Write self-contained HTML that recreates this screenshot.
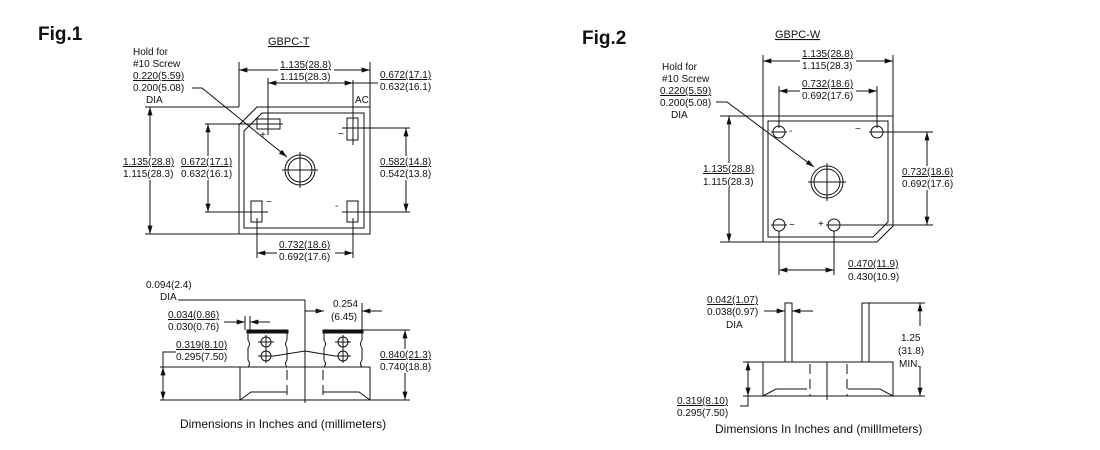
<!DOCTYPE html>
<html><head><style>
html,body{margin:0;padding:0;background:#fff;}
svg{display:block;}
text{font-family:"Liberation Sans",sans-serif;font-size:10px;fill:#111;}
.t{font-size:19px;font-weight:bold;}
.c{font-size:12px;}
line,polyline,rect,circle,path,polygon{stroke:#111;stroke-width:1;fill:none;}
.d{stroke-dasharray:10 5;}
</style></head><body>
<svg width="1100" height="450" viewBox="0 0 1100 450" xmlns="http://www.w3.org/2000/svg">
<defs>
<marker id="a" viewBox="0 0 10 6" refX="10" refY="3" markerWidth="9" markerHeight="5" orient="auto-start-reverse" markerUnits="userSpaceOnUse"><path d="M0,0 L10,3 L0,6z" style="fill:#111;stroke:none"/></marker>
</defs>
<text class="t" x="38" y="40">Fig.1</text>
<text class="t" x="582" y="44">Fig.2</text>

<!-- FIG 1 TOP -->
<text x="268" y="45" style="font-size:11px;text-decoration:underline">GBPC-T</text>
<polygon points="257,107 370,107 370,234 239,234 239,125"/>
<polygon points="262,113 364,113 364,228 244,228 244,131"/>
<rect x="257" y="119" width="23" height="10"/>
<rect x="347" y="118" width="11" height="22"/>
<rect x="251" y="201" width="11" height="21"/>
<rect x="347" y="201" width="11" height="21"/>
<circle cx="300" cy="170" r="15"/><circle cx="300" cy="170" r="12"/>
<line x1="282" y1="170" x2="318" y2="170"/><line x1="300" y1="152" x2="300" y2="188"/>
<text x="260" y="138">+</text><text x="338" y="137">~</text><text x="266" y="205">~</text><text x="335" y="209">-</text>
<text x="355" y="103">AC</text>
<!-- top dims -->
<line x1="239" y1="62" x2="239" y2="107"/><line x1="370" y1="62" x2="370" y2="107"/>
<line x1="239" y1="70" x2="370" y2="70" marker-start="url(#a)" marker-end="url(#a)"/>
<line x1="268" y1="78" x2="268" y2="135"/><line x1="353" y1="80" x2="353" y2="145"/>
<line x1="268" y1="83" x2="353" y2="83" marker-start="url(#a)" marker-end="url(#a)"/>
<line x1="353" y1="83" x2="378" y2="83"/>
<rect x="278" y="59" width="56" height="23" style="fill:#fff;stroke:none"/>
<text x="280" y="68" style="text-decoration:underline">1.135(28.8)</text><text x="280" y="80">1.115(28.3)</text>
<text x="380" y="78" style="text-decoration:underline">0.672(17.1)</text><text x="380" y="90">0.632(16.1)</text>
<text x="133" y="55">Hold for</text><text x="133" y="67">#10 Screw</text>
<text x="133" y="79" style="text-decoration:underline">0.220(5.59)</text><text x="133" y="91">0.200(5.08)</text>
<text x="146" y="103">DIA</text>
<line x1="145" y1="107" x2="239" y2="107"/>
<polyline points="192,88 202,88 287,157" marker-end="url(#a)"/>
<!-- left dims -->
<line x1="145" y1="234" x2="239" y2="234"/>
<line x1="150" y1="107" x2="150" y2="234" marker-start="url(#a)" marker-end="url(#a)"/>
<rect x="120" y="156" width="60" height="24" style="fill:#fff;stroke:none"/>
<text x="123" y="165" style="text-decoration:underline">1.135(28.8)</text><text x="123" y="177">1.115(28.3)</text>
<line x1="205" y1="124" x2="283" y2="124"/><line x1="205" y1="212" x2="268" y2="212"/>
<line x1="208" y1="124" x2="208" y2="212" marker-start="url(#a)" marker-end="url(#a)"/>
<rect x="206" y="156" width="4" height="24" style="fill:#fff;stroke:none"/>
<text x="181" y="165" style="text-decoration:underline">0.672(17.1)</text><text x="181" y="177">0.632(16.1)</text>
<line x1="342" y1="128" x2="410" y2="128"/><line x1="342" y1="212" x2="410" y2="212"/>
<line x1="406" y1="128" x2="406" y2="212" marker-start="url(#a)" marker-end="url(#a)"/>
<rect x="378" y="156" width="60" height="24" style="fill:#fff;stroke:none"/>
<text x="380" y="165" style="text-decoration:underline">0.582(14.8)</text><text x="380" y="177">0.542(13.8)</text>
<line x1="257" y1="218" x2="257" y2="258"/><line x1="353" y1="218" x2="353" y2="258"/>
<line x1="257" y1="253" x2="353" y2="253" marker-start="url(#a)" marker-end="url(#a)"/>
<rect x="277" y="240" width="58" height="24" style="fill:#fff;stroke:none"/>
<text x="279" y="248" style="text-decoration:underline">0.732(18.6)</text><text x="279" y="260">0.692(17.6)</text>

<!-- FIG 1 SIDE -->
<rect x="240" y="367" width="130" height="33"/>
<polyline points="240,400 251,392 287,392"/><polyline points="370,400 359,392 323,392"/>
<line x1="287" y1="370" x2="287" y2="400" class="d"/><line x1="323" y1="370" x2="323" y2="400" class="d"/>
<line x1="305" y1="300" x2="305" y2="403"/>
<path d="M248,333 L287,333 L287,340 Q284,344 287,348 L287,360 Q284,364 287,367 M248,333 L248,340 Q251,344 248,348 L248,360 Q251,364 248,367"/>
<path d="M324,333 L362,333 L362,340 Q359,344 362,348 L362,360 Q359,364 362,367 M324,333 L324,340 Q327,344 324,348 L324,360 Q327,364 324,367"/>
<rect x="247" y="330" width="41" height="3" style="fill:#111"/><rect x="323" y="330" width="40" height="3" style="fill:#111"/>
<circle cx="266" cy="342" r="5"/><circle cx="266" cy="356" r="5"/><circle cx="343" cy="342" r="5"/><circle cx="343" cy="356" r="5"/>
<line x1="258" y1="342" x2="274" y2="342"/><line x1="258" y1="356" x2="274" y2="356"/><line x1="335" y1="342" x2="351" y2="342"/><line x1="335" y1="356" x2="351" y2="356"/>
<line x1="266" y1="335" x2="266" y2="363"/><line x1="343" y1="335" x2="343" y2="363"/>
<polyline points="274,356 305,351 335,356"/>
<text x="146" y="288">0.094(2.4)</text><text x="160" y="300">DIA</text>
<line x1="178" y1="300" x2="305" y2="300"/>
<line x1="305" y1="311" x2="324" y2="311" marker-end="url(#a)"/>
<line x1="362" y1="311" x2="382" y2="311" marker-start="url(#a)"/>
<line x1="362" y1="303" x2="362" y2="330"/>
<text x="333" y="307">0.254</text><text x="331" y="320">(6.45)</text>
<text x="168" y="318" style="text-decoration:underline">0.034(0.86)</text><text x="168" y="330">0.030(0.76)</text>
<line x1="224" y1="322" x2="245" y2="322" marker-end="url(#a)"/><line x1="250" y1="322" x2="270" y2="322" marker-start="url(#a)"/>
<line x1="245" y1="316" x2="245" y2="330"/><line x1="250" y1="316" x2="250" y2="330"/>
<text x="176" y="348" style="text-decoration:underline">0.319(8.10)</text><text x="176" y="360">0.295(7.50)</text>
<polyline points="176,352 163,352 163,367"/>
<line x1="160" y1="367" x2="240" y2="367"/><line x1="160" y1="400" x2="410" y2="400"/>
<line x1="163" y1="367" x2="163" y2="400" marker-start="url(#a)" marker-end="url(#a)"/>
<line x1="362" y1="330" x2="410" y2="330"/>
<line x1="405" y1="330" x2="405" y2="400" marker-start="url(#a)" marker-end="url(#a)"/>
<rect x="378" y="349" width="60" height="24" style="fill:#fff;stroke:none"/>
<text x="380" y="358" style="text-decoration:underline">0.840(21.3)</text><text x="380" y="370">0.740(18.8)</text>
<text class="c" x="180" y="428">Dimensions in Inches and (millimeters)</text>

<!-- FIG 2 TOP -->
<text x="775" y="38" style="font-size:11px;text-decoration:underline">GBPC-W</text>
<polygon points="763,116 893,116 893,226 877,242 763,242"/>
<polygon points="768,121 888,121 888,222 873,237 768,237"/>
<circle cx="779" cy="132" r="6"/><circle cx="877" cy="132" r="6"/><circle cx="779" cy="225" r="6"/><circle cx="834" cy="225" r="6"/>
<line x1="771" y1="132" x2="787" y2="132"/><line x1="869" y1="132" x2="885" y2="132"/><line x1="771" y1="225" x2="787" y2="225"/><line x1="826" y1="225" x2="842" y2="225"/>
<text x="789" y="134">-</text><text x="855" y="132">~</text><text x="789" y="228">~</text><text x="818" y="227">+</text>
<circle cx="827" cy="182" r="16"/><circle cx="827" cy="182" r="13"/>
<line x1="808" y1="182" x2="846" y2="182"/><line x1="827" y1="163" x2="827" y2="201"/>
<line x1="763" y1="55" x2="763" y2="116"/><line x1="893" y1="55" x2="893" y2="116"/>
<line x1="763" y1="61" x2="893" y2="61" marker-start="url(#a)" marker-end="url(#a)"/>
<rect x="800" y="50" width="56" height="22" style="fill:#fff;stroke:none"/>
<text x="802" y="57" style="text-decoration:underline">1.135(28.8)</text><text x="802" y="69">1.115(28.3)</text>
<line x1="779" y1="86" x2="779" y2="128"/><line x1="877" y1="86" x2="877" y2="128"/>
<line x1="779" y1="91" x2="877" y2="91" marker-start="url(#a)" marker-end="url(#a)"/>
<rect x="800" y="80" width="56" height="22" style="fill:#fff;stroke:none"/>
<text x="802" y="87" style="text-decoration:underline">0.732(18.6)</text><text x="802" y="99">0.692(17.6)</text>
<text x="662" y="70">Hold for</text><text x="662" y="82">#10 Screw</text>
<text x="660" y="94" style="text-decoration:underline">0.220(5.59)</text><text x="660" y="106">0.200(5.08)</text>
<text x="671" y="118">DIA</text>
<polyline points="716,102 727,102 814,167" marker-end="url(#a)"/>
<line x1="720" y1="116" x2="763" y2="116"/><line x1="720" y1="242" x2="763" y2="242"/>
<line x1="729" y1="116" x2="729" y2="242" marker-start="url(#a)" marker-end="url(#a)"/>
<rect x="700" y="163" width="58" height="24" style="fill:#fff;stroke:none"/>
<text x="703" y="172" style="text-decoration:underline">1.135(28.8)</text><text x="703" y="185">1.115(28.3)</text>
<line x1="880" y1="132" x2="933" y2="132"/><line x1="840" y1="225" x2="933" y2="225"/>
<line x1="927" y1="132" x2="927" y2="225" marker-start="url(#a)" marker-end="url(#a)"/>
<rect x="900" y="166" width="58" height="24" style="fill:#fff;stroke:none"/>
<text x="902" y="175" style="text-decoration:underline">0.732(18.6)</text><text x="902" y="187">0.692(17.6)</text>
<line x1="779" y1="231" x2="779" y2="275"/><line x1="834" y1="231" x2="834" y2="275"/>
<line x1="779" y1="270" x2="834" y2="270" marker-start="url(#a)" marker-end="url(#a)"/>
<text x="848" y="267" style="text-decoration:underline">0.470(11.9)</text><text x="848" y="280">0.430(10.9)</text>

<!-- FIG 2 SIDE -->
<rect x="785" y="303" width="7" height="59"/><rect x="862" y="303" width="7" height="59"/>
<rect x="763" y="362" width="130" height="34"/>
<polyline points="763,396 776,389 807,389"/><polyline points="893,396 880,389 848,389"/>
<line x1="810" y1="364" x2="810" y2="396" class="d"/><line x1="847" y1="364" x2="847" y2="396" class="d"/>
<line x1="827" y1="362" x2="827" y2="400"/>
<text x="707" y="303" style="text-decoration:underline">0.042(1.07)</text><text x="707" y="315">0.038(0.97)</text><text x="726" y="328">DIA</text>
<line x1="764" y1="311" x2="785" y2="311" marker-end="url(#a)"/><line x1="792" y1="311" x2="813" y2="311" marker-start="url(#a)"/>
<line x1="869" y1="303" x2="925" y2="303"/><line x1="893" y1="396" x2="925" y2="396"/>
<line x1="920" y1="303" x2="920" y2="396" marker-start="url(#a)" marker-end="url(#a)"/>
<rect x="898" y="326" width="30" height="40" style="fill:#fff;stroke:none"/>
<text x="901" y="341">1.25</text><text x="898" y="354">(31.8)</text><text x="899" y="367">MIN.</text>
<line x1="743" y1="362" x2="763" y2="362"/><line x1="743" y1="396" x2="763" y2="396"/>
<polyline points="748,362 748,406 740,406"/>
<line x1="748" y1="362" x2="748" y2="396" marker-start="url(#a)" marker-end="url(#a)"/>
<text x="677" y="404" style="text-decoration:underline">0.319(8.10)</text><text x="677" y="416">0.295(7.50)</text>
<text class="c" x="715" y="433">Dimensions In Inches and (millImeters)</text>
</svg>
</body></html>
